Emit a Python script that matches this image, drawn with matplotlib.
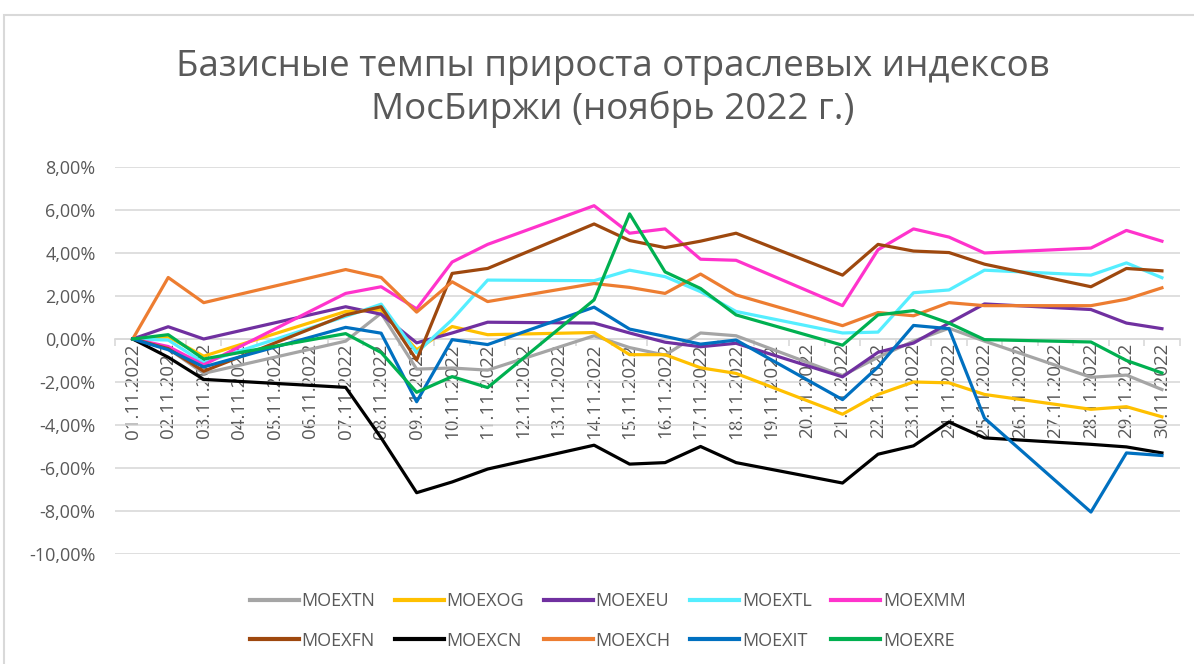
import matplotlib
matplotlib.use("Agg")
import matplotlib.pyplot as plt
from matplotlib.patches import Rectangle
import numpy as np

plt.rcParams['font.family'] = ['Open Sans', 'DejaVu Sans']

# все даты на оси (категории) и торговые дни, по которым есть данные
date_labels = ['%02d.11.2022' % d for d in range(1, 31)]
days = [1, 2, 3, 7, 8, 9, 10, 11, 14, 15, 16, 17, 18, 21, 22, 23, 24, 25, 28, 29, 30]

moextn = [0, -0.45, -1.6, -0.1, 1.2, -1.4, -1.35, -1.45, 0.15, -0.4, -0.75, 0.28, 0.15,
          -1.7, -0.85, -0.1, 0.5, -0.1, -1.78, -1.68, -2.35]
moexog = [0, 0.1, -0.8, 1.28, 1.35, -0.5, 0.58, 0.2, 0.3, -0.73, -0.73, -1.34, -1.6,
          -3.5, -2.58, -2.0, -2.04, -2.58, -3.27, -3.15, -3.62]
moexeu = [0, 0.57, 0.0, 1.5, 1.15, -0.18, 0.28, 0.78, 0.74, 0.28, -0.15, -0.36, -0.2,
          -1.76, -0.62, -0.19, 0.74, 1.63, 1.37, 0.74, 0.48]
moextl = [0, -0.05, -1.1, 1.05, 1.62, -0.64, 0.9, 2.74, 2.71, 3.2, 2.9, 2.2, 1.28,
          0.28, 0.32, 2.15, 2.28, 3.2, 2.97, 3.54, 2.85]
moexmm = [0, -0.35, -1.2, 2.12, 2.43, 1.4, 3.58, 4.4, 6.2, 4.92, 5.12, 3.71, 3.66,
          1.55, 4.15, 5.12, 4.74, 4.0, 4.23, 5.05, 4.55]
moexfn = [0, -0.45, -1.5, 1.12, 1.5, -0.98, 3.05, 3.28, 5.35, 4.58, 4.25, 4.55, 4.92,
          2.97, 4.4, 4.09, 4.02, 3.48, 2.43, 3.28, 3.17]
moexcn = [0, -0.85, -1.88, -2.25, -4.6, -7.15, -6.65, -6.05, -4.94, -5.82, -5.75, -5.0, -5.75,
          -6.7, -5.36, -4.97, -3.86, -4.6, -4.9, -5.02, -5.3]
moexch = [0, 2.86, 1.69, 3.23, 2.86, 1.25, 2.66, 1.74, 2.58, 2.4, 2.12, 3.02, 2.05,
          0.62, 1.23, 1.08, 1.69, 1.55, 1.55, 1.85, 2.38]
moexit = [0, -0.5, -1.3, 0.54, 0.27, -2.92, -0.03, -0.26, 1.48, 0.46, 0.12, -0.24, -0.05,
          -2.82, -1.3, 0.63, 0.48, -3.68, -8.05, -5.3, -5.42]
moexre = [0, 0.2, -0.93, 0.25, -0.63, -2.48, -1.75, -2.26, 1.82, 5.82, 3.12, 2.35, 1.12,
          -0.29, 1.12, 1.32, 0.74, -0.03, -0.14, -1.0, -1.58]

series = [
    ('MOEXTN', moextn, '#A5A5A5'),
    ('MOEXOG', moexog, '#FFC000'),
    ('MOEXEU', moexeu, '#7030A0'),
    ('MOEXTL', moextl, '#55EEFF'),
    ('MOEXMM', moexmm, '#FF33CC'),
    ('MOEXFN', moexfn, '#9E480E'),
    ('MOEXCN', moexcn, '#000000'),
    ('MOEXCH', moexch, '#ED7D31'),
    ('MOEXIT', moexit, '#0070C0'),
    ('MOEXRE', moexre, '#00B050'),
]

txt = '#595959'
grid = '#D9D9D9'

fig = plt.figure(figsize=(11.94, 6.64), dpi=100)
ax = fig.add_axes([0.0963, 0.1657, 0.8917, 0.5828])

for name, vals, col in series:
    ax.plot(days, vals, color=col, lw=2.3, label=name, solid_joinstyle='round', zorder=3)

ax.set_xlim(0.5, 30.5)
ax.set_ylim(-10, 8)
yt = np.arange(-10, 9, 2)
ax.set_yticks(yt)
ax.set_yticklabels([('%.2f%%' % v).replace('.', ',') for v in yt])
ax.set_xticks(range(1, 31))
ax.set_xticklabels(date_labels)
ax.set_xticks(np.arange(0.5, 31, 1), minor=True)

for s in ['top', 'right', 'left']:
    ax.spines[s].set_visible(False)
ax.spines['bottom'].set_position(('data', 0))
ax.spines['bottom'].set_color(grid)
ax.spines['bottom'].set_linewidth(1.2)
ax.yaxis.grid(True, color=grid, lw=1.2)
ax.set_axisbelow(True)
ax.tick_params(axis='y', length=0, pad=14, labelsize=13, labelcolor=txt)
ax.tick_params(axis='x', which='major', length=0, pad=3, labelsize=13.5, labelcolor=txt,
               labelrotation=90)
ax.tick_params(axis='x', which='minor', length=5, color=grid, width=1.2)

fig.text(0.513, 0.8667, 'Базисные темпы прироста отраслевых индексов\nМосБиржи (ноябрь 2022 г.)',
         ha='center', va='center', fontsize=26.5, color=txt, linespacing=1.18)

# Excel заполняет легенду по строкам
h, l = ax.get_legend_handles_labels()
order = [0, 5, 1, 6, 2, 7, 3, 8, 4, 9]
leg = fig.legend([h[i] for i in order], [l[i] for i in order], loc='center',
                 bbox_to_anchor=(0.509, 0.065), ncol=5, frameon=False,
                 fontsize=13, handlelength=2.7, handletextpad=0.15, columnspacing=1.1,
                 labelspacing=1.2, labelcolor=txt)
for ln in leg.get_lines():
    ln.set_linewidth(3)

fig.add_artist(Rectangle((4 / 1194, -0.1), 1.2, 1.1 - 15 / 664, transform=fig.transFigure,
                         fill=False, edgecolor=grid, lw=1.5))

fig.savefig('out.png', dpi=100)
